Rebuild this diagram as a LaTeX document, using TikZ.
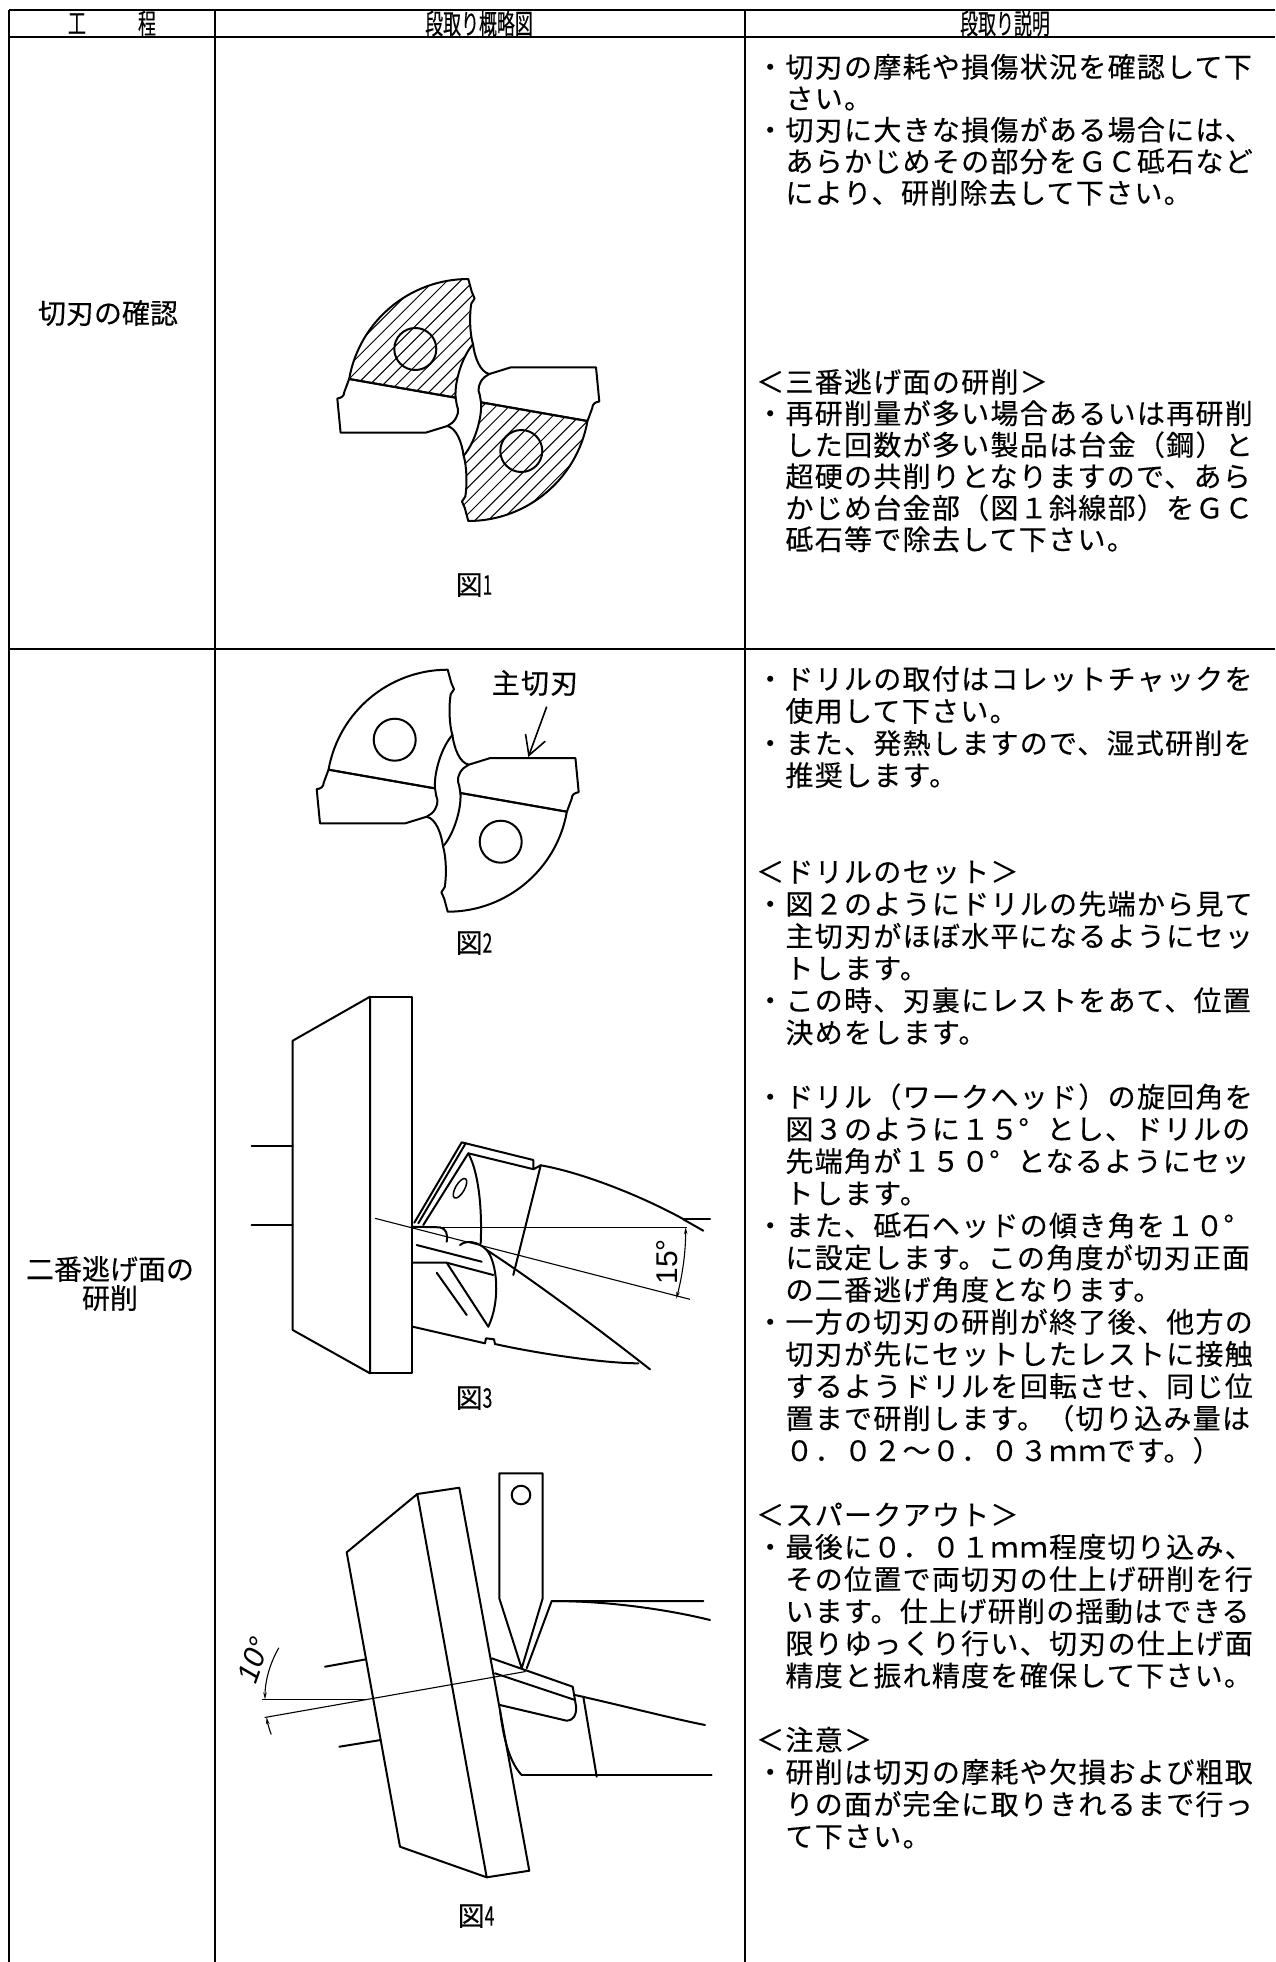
\documentclass[tikz,border=0pt]{standalone}
\usepackage{fontspec}
\setmainfont{Noto Sans CJK JP}
\newfontfamily\jp{Noto Sans CJK JP}[FakeBold=0.3]
\newfontfamily\jpsp{Noto Sans CJK JP}[LetterSpace=4.6, FakeBold=0.3]
\newfontfamily\hdr{Noto Sans CJK JP}[FakeStretch=0.64, FakeBold=0.3]
\newfontfamily\dimf{Liberation Sans}
\newfontfamily\dimfi{Liberation Sans}[FakeSlant=0.18]
\usetikzlibrary{arrows.meta}
\newcommand\fdeg{\makebox[1em][l]{°}}
\newcommand\drillland{(170:121) arc[start angle=170, end angle=90, radius=121] -- (3.5,108) -- (6.3,101.5) -- (3,96.5) .. controls (1,85) and (1.5,66) .. (4.7,55.7) .. controls (-6,44) and (-14,18) .. (-12.7,2.3) -- cycle}
\newcommand\drillrect{(170:121) -- (-124,8) .. controls (-124,4) and (-127,2) .. (-131,1.5) -- (-127.7,-32.7) -- (-42.7,-32.7) -- (-21,-26) -- (-16,-22.7) .. controls (-10,-17) and (-9,-10) .. (-11.5,-5) -- (-12.7,2.3) -- cycle}
\newcommand\drillflute{(4.7,55.7) .. controls (6.5,42) and (12,28) .. (21,26)}
\newcommand\halfhatch{\begin{scope}\clip \drillland; \foreach \hk in {-260,-246.7,...,40} {\draw[hatch] (\hk-140,-140) -- (\hk+140,140);}\end{scope}}
\newcommand\halfoutline{\draw[ol] \drillland; \draw[ol] \drillrect; \draw[ol] \drillflute; \draw[ol] (-53,51) circle[radius=21];}
\tikzset{
 tbl/.style={line width=2.6pt},
 ol/.style={line width=2pt, line join=round, line cap=round},
 thinl/.style={line width=1.1pt},
 hatch/.style={line width=1pt},
 body/.style={anchor=west, inner sep=0pt, font=\fontsize{28}{32}\jpsp, text height=24.4pt, text depth=3.6pt},
 hdrtxt/.style={inner sep=0pt, font=\fontsize{28}{30}\hdr},
 lefttxt/.style={inner sep=0pt, font=\fontsize{28}{32}\jp},
 capt/.style={inner sep=0pt, font=\fontsize{27}{30}\jp},
 dimtxt/.style={inner sep=0pt, font=\fontsize{30}{30}\dimf},
}
\begin{document}
\begin{tikzpicture}[x=1pt, y=-1pt]
\fill[white] (0,0) rectangle (1275,1962);
\useasboundingbox (0,0) rectangle (1275,1962);
% table
\draw[tbl] (9,10) -- (1275,10);
\draw[tbl] (9,37) -- (1275,37);
\draw[tbl] (9,649) -- (1275,649);
\draw[tbl] (9,10) -- (9,1962);
\draw[tbl] (215,10) -- (215,1962);
\draw[tbl] (745,10) -- (745,1962);
% header
\node[hdrtxt] (h1a) at (77,23.5) {工};
\node[hdrtxt] (h1b) at (147,23.5) {程};
\node[hdrtxt] (h2) at (479,23.5) {段取り概略図};
\node[hdrtxt] (h3) at (1005,23.5) {段取り説明};
% left column
\node[lefttxt] (s1) at (108,313) {切刃の確認};
\node[lefttxt] (s2a) at (110,1269) {二番逃げ面の};
\node[lefttxt] (s2b) at (110,1298) {研削};
% row 1 text
\node[body] (a0) at (756,67) {・切刃の摩耗や損傷状況を確認して下};
\node[body] (a1) at (756,98.5) {　さい。};
\node[body] (a2) at (756,130) {・切刃に大きな損傷がある場合には、};
\node[body] (a3) at (756,161.5) {　あらかじめその部分をＧＣ砥石など};
\node[body] (a4) at (756,193) {　により、研削除去して下さい。};
\node[body] (a10) at (756,382) {＜三番逃げ面の研削＞};
\node[body] (a11) at (756,413.5) {・再研削量が多い場合あるいは再研削};
\node[body] (a12) at (756,445) {　した回数が多い製品は台金（鋼）と};
\node[body] (a13) at (756,476.5) {　超硬の共削りとなりますので、あら};
\node[body] (a14) at (756,508) {　かじめ台金部（図１斜線部）をＧＣ};
\node[body] (a15) at (756,539.5) {　砥石等で除去して下さい。};
% row 2 text
\node[body] (b0) at (756,679) {・ドリルの取付はコレットチャックを};
\node[body] (b1) at (756,711.15) {　使用して下さい。};
\node[body] (b2) at (756,743.3) {・また、発熱しますので、湿式研削を};
\node[body] (b3) at (756,775.45) {　推奨します。};
\node[body] (b6) at (756,871.9) {＜ドリルのセット＞};
\node[body] (b7) at (756,904.05) {・図２のようにドリルの先端から見て};
\node[body] (b8) at (756,936.2) {　主切刃がほぼ水平になるようにセッ};
\node[body] (b9) at (756,968.35) {　トします。};
\node[body] (b10) at (756,1000.5) {・この時、刃裏にレストをあて、位置};
\node[body] (b11) at (756,1032.65) {　決めをします。};
\node[body] (b13) at (756,1096.95) {・ドリル（ワークヘッド）の旋回角を};
\node[body] (b14) at (756,1129.1) {　図３のように１５\fdeg とし、ドリルの};
\node[body] (b15) at (756,1161.25) {　先端角が１５０\fdeg となるようにセッ};
\node[body] (b16) at (756,1193.4) {　トします。};
\node[body] (b17) at (756,1225.55) {・また、砥石ヘッドの傾き角を１０\fdeg};
\node[body] (b18) at (756,1257.7) {　に設定します。この角度が切刃正面};
\node[body] (b19) at (756,1289.85) {　の二番逃げ角度となります。};
\node[body] (b20) at (756,1322) {・一方の切刃の研削が終了後、他方の};
\node[body] (b21) at (756,1354.15) {　切刃が先にセットしたレストに接触};
\node[body] (b22) at (756,1386.3) {　するようドリルを回転させ、同じ位};
\node[body] (b23) at (756,1418.45) {　置まで研削します。（切り込み量は};
\node[body] (b24) at (756,1450.6) {　０．０２～０．０３ｍｍです。）};
\node[body] (b26) at (756,1514.9) {＜スパークアウト＞};
\node[body] (b27) at (756,1547.05) {・最後に０．０１ｍｍ程度切り込み、};
\node[body] (b28) at (756,1579.2) {　その位置で両切刃の仕上げ研削を行};
\node[body] (b29) at (756,1611.35) {　います。仕上げ研削の揺動はできる};
\node[body] (b30) at (756,1643.5) {　限りゆっくり行い、切刃の仕上げ面};
\node[body] (b31) at (756,1675.65) {　精度と振れ精度を確保して下さい。};
\node[body] (b33) at (756,1739.95) {＜注意＞};
\node[body] (b34) at (756,1772.1) {・研削は切刃の摩耗や欠損および粗取};
\node[body] (b35) at (756,1804.25) {　りの面が完全に取りきれるまで行っ};
\node[body] (b36) at (756,1836.4) {　て下さい。};
% figure 1
\begin{scope}[shift={(468.3,400)}, yscale=-1]
  \halfhatch \halfoutline
  \begin{scope}[rotate=180] \halfhatch \halfoutline \end{scope}
\end{scope}
\node[capt] (c1) at (474,585) {図{\hdr 1}};
% figure 2
\begin{scope}[shift={(447.7,790.7)}, yscale=-1]
  \halfoutline
  \begin{scope}[rotate=180] \halfoutline \end{scope}
\end{scope}
\node[inner sep=0pt, font=\fontsize{28}{30}\jpsp] (mlab) at (535,683) {主切刃};
\coordinate (ma) at (546.7,706.7);
\coordinate (mt) at (528.3,757);
\draw[line width=1.6pt, -{Straight Barb[length=19pt,width=21pt,line width=1.6pt]}] (ma) -- (mt);
\node[capt] (c2) at (474,943) {図{\hdr 2}};
% figure 3
\draw[ol] (292.7,1040.7) -- (370,996.7) -- (370,1373.3) -- (292.7,1330) -- cycle;
\draw[ol] (370,996.7) rectangle (411.7,1373.3);
\draw[ol] (251.7,1145.7) -- (292.7,1145.7);
\draw[ol] (251.7,1225) -- (292.7,1225);
\draw[ol] (414.3,1222.7) -- (461.7,1142.3) -- (533.3,1160) -- (533.3,1169.3) -- (540.7,1165.3);
\draw[ol] (418.3,1223.3) -- (465.7,1143.3);
\draw[ol] (423.3,1225) -- (468.3,1153.3) -- (532.7,1169);
\draw[ol] (540.7,1165.3) -- (513.3,1275);
\draw[ol] (468.3,1153.3) .. controls (480,1175) and (482,1215) .. (480.7,1243.3);
\draw[line width=1.5pt, rotate around={-30:(460,1188.3)}] (460,1188.3) ellipse[x radius=4.5, y radius=11];
\draw[ol] (411.7,1226.7) -- (440,1227.3) .. controls (446,1229) and (448,1233) .. (446.7,1241.7);
\draw[ol] (460,1245) .. controls (466,1240) and (478,1241) .. (486.7,1250);
\draw[ol] (416.7,1245) -- (481.7,1261.7);
\draw[ol] (412.7,1262.7) -- (446.7,1262.7) -- (493.3,1275);
\draw[ol] (446.7,1262.7) -- (488.3,1326.7);
\draw[ol] (436.7,1272.7) -- (466.7,1315);
\draw[ol] (486.7,1250) .. controls (497,1262) and (501,1300) .. (488.3,1326.7);
\draw[ol] (412.7,1326.7) -- (485,1343.3) -- (486,1338.3) -- (494,1339.3) -- (495,1344);
\draw[ol] (495,1344) .. controls (536.7,1353.3) and (603.3,1363.3) .. (638.3,1363.3);
\draw[ol] (486.7,1250) .. controls (530,1278) and (600,1330) .. (650,1369.3);
\draw[ol] (540.7,1165.3) .. controls (580,1172) and (640,1195) .. (685,1220);
\draw[ol] (683.3,1219.3) -- (710,1219.3);
\draw[ol] (683.3,1219.3) -- (703.3,1230.7);
\draw[thinl] (411.7,1227.3) -- (686.7,1227.3);
\draw[thinl] (375,1218.3) -- (690,1299.3);
\draw[thinl, {Stealth[length=7pt,width=3.5pt]}-{Stealth[length=7pt,width=3.5pt]}] ([shift={(0:275.7)}]410,1227.3) arc[start angle=0, end angle=15, radius=275.7];
\node[dimtxt, rotate=90] (d15) at (666.7,1261.7) {15°};
\node[capt] (c3) at (474,1398) {図{\hdr 3}};
% figure 4
\draw[ol] (346.7,1552.3) -- (417.3,1494) -- (486.7,1877.3) -- (400,1846.7) -- cycle;
\draw[ol] (417.3,1494) -- (459.3,1487.7) -- (529.3,1870.7) -- (486.7,1877.3);
\draw[ol] (325,1666.7) -- (366,1659.3);
\draw[ol] (339.3,1746.7) -- (380.7,1740);
\draw[ol] (521.7,1668.3) -- (499.3,1598.3) -- (499.3,1473.3) -- (542.7,1473.3) -- (542.7,1598.3) -- (521.7,1668.3);
\draw[ol] (521,1495) circle[radius=9.3];
\draw[ol] (526.7,1668.3) -- (551.7,1601) -- (703.3,1601);
\draw[ol] (553,1601) .. controls (610,1601) and (670,1610) .. (710,1620);
\draw[ol] (491.7,1658.3) -- (572.7,1686.7) -- (576,1706) .. controls (577,1716) and (572,1721) .. (566.7,1720.7) -- (500,1705);
\draw[ol] (495,1673.3) -- (575,1700);
\draw[ol] (575,1695) .. controls (620,1705) and (670,1718) .. (705,1725);
\draw[ol] (583.3,1696.7) -- (596.7,1776.7);
\draw[ol] (521.7,1775) -- (711.7,1775);
\draw[ol] (500,1710) .. controls (504,1745) and (512,1765) .. (521.7,1775);
\draw[thinl] (261.7,1699.3) -- (366.7,1699.3);
\draw[thinl] (264.6,1717.5) -- (525.6,1671.5);
\draw[thinl, -{Stealth[length=7pt,width=3.5pt]}] ([shift={(210:103)}]368,1699.3) arc[start angle=210, end angle=180, radius=103];
\draw[thinl, -{Stealth[length=7pt,width=3.5pt]}] ([shift={(160:103)}]368,1699.3) arc[start angle=160, end angle=170, radius=103];
\node[inner sep=0pt, font=\fontsize{30}{30}\dimfi, rotate=70] (d10) at (253.3,1661.7) {10°};
\node[capt] (c4) at (476,1916) {図{\hdr 4}};
\end{tikzpicture}
\end{document}
